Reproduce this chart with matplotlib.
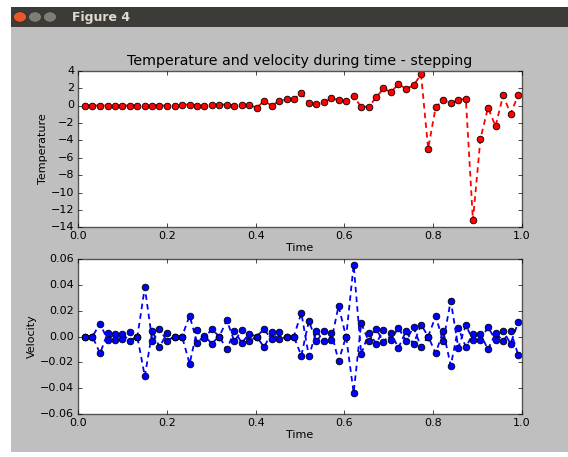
import matplotlib
matplotlib.use("Agg")
import matplotlib.pyplot as plt
import numpy as np
from matplotlib.patches import Rectangle, Circle

# time steps
time = [0.015, 0.032, 0.049, 0.066, 0.082, 0.099, 0.116, 0.133, 0.150, 0.167,
        0.183, 0.200, 0.217, 0.234, 0.251, 0.268, 0.284, 0.301, 0.318, 0.335,
        0.352, 0.369, 0.385, 0.402, 0.419, 0.436, 0.453, 0.470, 0.486, 0.503,
        0.520, 0.537, 0.554, 0.571, 0.587, 0.604, 0.621, 0.638, 0.655, 0.672,
        0.688, 0.705, 0.722, 0.739, 0.756, 0.773, 0.789, 0.806, 0.823, 0.840,
        0.857, 0.874, 0.890, 0.907, 0.924, 0.941, 0.958, 0.975, 0.992]

temperature = [0.0, 0.0, 0.0, 0.0, 0.0, 0.0, 0.0, 0.0, 0.0, 0.0,
               0.0, 0.0, 0.0, 0.1, 0.1, 0.0, 0.0, 0.1, 0.1, 0.1,
               0.0, 0.1, 0.1, -0.25, 0.5, 0.0, 0.5, 0.72, 0.73, 1.42,
               0.23, 0.12, 0.35, 0.85, 0.6, 0.54, 1.08, -0.19, -0.12, 0.92,
               1.96, 1.54, 2.46, 1.92, 2.3, 3.6, -4.96, -0.19, 0.6, 0.3,
               0.6, 0.8, -13.2, -3.8, -0.23, -2.4, 1.15, -0.92, 1.15]

# velocity: the two components oscillate, one above and one below zero
vel_upper = [0.0, 0.0, 0.0100, 0.0026, 0.0020, 0.0020, 0.0036, 0.0, 0.0379, 0.0041,
             0.0056, 0.0026, 0.0, 0.0, 0.0161, 0.0051, 0.0005, 0.0056, 0.0, 0.0125,
             0.0041, 0.0051, 0.0020, 0.0, 0.0056, 0.0031, 0.0031, 0.0, 0.0, 0.0182,
             0.0120, 0.0041, 0.0041, 0.0026, 0.0236, 0.0, 0.0553, 0.0102, 0.0026, 0.0061,
             0.0051, 0.0026, 0.0067, 0.0041, 0.0072, 0.0092, 0.0, 0.0156, 0.0041, 0.0276,
             0.0067, 0.0087, 0.0020, 0.0020, 0.0072, 0.0026, 0.0041, 0.0041, 0.0108]
vel_lower = [0.0, 0.0, -0.0131, -0.0026, -0.0026, -0.0020, -0.0033, -0.0005, -0.0307, -0.0038,
             -0.0082, -0.0033, 0.0, 0.0, -0.0210, -0.0049, -0.0010, -0.0054, 0.0, -0.0100,
             -0.0038, -0.0049, -0.0038, 0.0, -0.0082, -0.0023, -0.0023, 0.0, 0.0, -0.0148,
             -0.0154, -0.0038, -0.0033, -0.0026, -0.0189, -0.0005, -0.0435, -0.0136, -0.0038, -0.0054,
             -0.0044, -0.0026, -0.0087, -0.0033, -0.0059, -0.0082, 0.0, -0.0128, -0.0038, -0.0225,
             -0.0087, -0.0082, -0.0026, -0.0026, -0.0100, -0.0026, -0.0033, -0.0054, -0.0141]

t = np.array(time)
up = np.array(vel_upper)
lo = np.array(vel_lower)
even = np.arange(len(t)) % 2 == 0
velocity = np.column_stack([np.where(even, up, lo), np.where(even, lo, up)])

plt.style.use('classic')
plt.rcParams['font.size'] = 8

W, H = 568.0, 457.0
fig = plt.figure(figsize=(5.68, 4.57), dpi=100, facecolor='white')

# window frame of the screenshot
fig.add_artist(Rectangle((11 / W, 1 - 452 / H), 557 / W, 425 / H, transform=fig.transFigure,
                         facecolor='#bfbfbf', edgecolor='none', zorder=-5))
fig.add_artist(Rectangle((11 / W, 1 - 27 / H), 557 / W, 20 / H, transform=fig.transFigure,
                         facecolor='#3c3b37', edgecolor='none', zorder=-4))
for i, c in enumerate(['#e9572b', '#807d76', '#807d76']):
    fig.add_artist(Circle(((20 + 15 * i) / W, 1 - 17 / H), 6.5 / W, transform=fig.transFigure,
                          facecolor=c, edgecolor='#2e2d2a', lw=0.5, zorder=-3))
fig.text(72 / W, 1 - 17 / H, 'Figure 4', color='#dfdbd2', fontsize=9, fontweight='bold',
         va='center', ha='left')

ax1 = fig.add_axes([78.3 / W, 1 - 227.3 / H, 443.4 / W, 156.6 / H])
ax1.plot(t, temperature, 'r--o', lw=1.3, ms=4.8, mec='black', mew=0.6, dashes=(4, 3))
ax1.set_xlim(0, 1)
ax1.set_ylim(-14, 4)
ax1.set_yticks(np.arange(-14, 5, 2))
ax1.set_title('Temperature and velocity during time - stepping', fontsize=10.3, pad=4)
ax1.set_xlabel('Time', labelpad=1)
ax1.set_ylabel('Temperature', labelpad=2)

ax2 = fig.add_axes([78.3 / W, 1 - 414.3 / H, 443.4 / W, 155.6 / H])
ax2.plot(t, velocity, 'b--o', lw=1.3, ms=4.8, mec='black', mew=0.6, dashes=(4, 3))
ax2.set_xlim(0, 1)
ax2.set_ylim(-0.06, 0.06)
ax2.set_xlabel('Time', labelpad=1)
ax2.set_ylabel('Velocity', labelpad=2)

for ax in (ax1, ax2):
    ax.tick_params(length=3, labelsize=8, pad=3)
    for s in ax.spines.values():
        s.set_color('#555555')

fig.savefig('out.png', dpi=100, facecolor=fig.get_facecolor())
